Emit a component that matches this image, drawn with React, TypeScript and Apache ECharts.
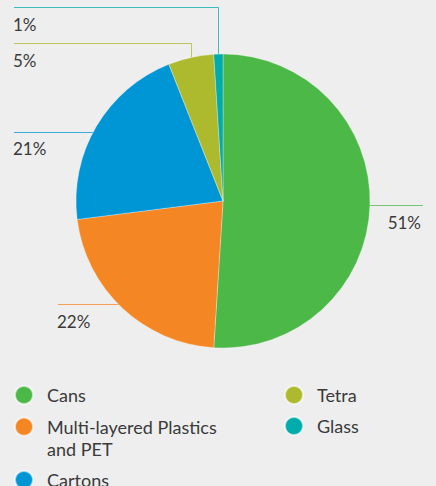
import { useEffect, useRef } from 'react';
import * as echarts from 'echarts';

// ---- data ----
const categories = ['Cans', 'Multi-layered Plastics and PET', 'Cartons', 'Tetra', 'Glass'];
const shares = [51, 22, 21, 5, 1];
const sliceColors = ['#4cb848', '#f58624', '#0096d6', '#aeba2e', '#00abab'];

// ---- layout ----
const CX = 223;
const CY = 201;
const R = 147;
const FONT = 'Lato, "Open Sans", sans-serif';
const TEXT = '#3a3a3a';
const BG = '#eeeeee';

// leader line / label placement per slice (annotation layout only)
const guides = [
  { lineY: 205.5, endX: 423, textX: 421, textY: 222, align: 'right', up: false },
  { lineY: 304.5, endX: 58, textX: 57, textY: 321, align: 'left', up: false },
  { lineY: 132.5, endX: 14, textX: 13, textY: 148, align: 'left', up: false },
  { lineY: 43.5, endX: 14, textX: 13, textY: 60, align: 'left', up: true },
  { lineY: 7.5, endX: 14, textX: 13, textY: 24, align: 'left', up: true },
];

// legend slot positions (annotation layout only)
const legendSlots = [
  { left: 14, top: 384, wrap: false },
  { left: 14, top: 393.7, wrap: true },
  { left: 14, top: 469, wrap: false },
  { left: 284, top: 384, wrap: false },
  { left: 284, top: 415, wrap: false },
];

export default function App() {
  const ref = useRef<HTMLDivElement>(null);

  useEffect(() => {
    if (!ref.current) return;
    const chart = echarts.init(ref.current, undefined, { renderer: 'svg' });
    const total = shares.reduce((a, b) => a + b, 0);

    const legends = categories.map((name, i) => {
      const slot = legendSlots[i];
      return {
        show: true,
        orient: 'vertical',
        left: slot.left,
        top: slot.top,
        padding: 0,
        icon: 'circle',
        itemWidth: 36,
        itemHeight: 18,
        selectedMode: false,
        data: [name],
        formatter: (n: string) =>
          slot.wrap ? '\n' + n.replace(' and ', '\nand ') : n,
        textStyle: {
          fontFamily: FONT,
          fontSize: 18,
          color: TEXT,
          lineHeight: 22,
        },
      };
    });

    chart.setOption({
      animation: false,
      backgroundColor: BG,
      legend: legends,
      series: [
        {
          type: 'pie',
          center: [CX, CY],
          radius: R,
          startAngle: 90,
          clockwise: true,
          avoidLabelOverlap: false,
          itemStyle: { borderColor: 'rgba(255,255,255,0.6)', borderWidth: 0.5 },
          emphasis: { disabled: true },
          data: categories.map((name, i) => ({
            name,
            value: shares[i],
            itemStyle: { color: sliceColors[i] },
            labelLine: { lineStyle: { color: sliceColors[i], opacity: 0.75 } },
          })),
          label: {
            show: true,
            position: 'outside',
            formatter: (p: any) => `${p.value}%`,
            fontFamily: FONT,
            fontSize: 17,
            color: TEXT,
          },
          labelLine: { show: true, smooth: false, lineStyle: { width: 1 } },
          labelLayout: (p: any) => {
            const i = p.dataIndex;
            const g = guides[i];
            const before = shares.slice(0, i).reduce((a, b) => a + b, 0);
            const theta = ((before + shares[i] / 2) / total) * Math.PI * 2;
            const mx = CX + R * Math.sin(theta);
            const my = CY - R * Math.cos(theta);
            let pts: number[][];
            if (g.up) {
              const vx = Math.round(mx) + 0.5;
              pts = [[vx, my], [vx, g.lineY], [g.endX, g.lineY]];
            } else {
              const dy = g.lineY - CY;
              const ex = CX + Math.sign(mx - CX) * Math.sqrt(R * R - dy * dy);
              pts = [[ex, g.lineY], [g.endX, g.lineY]];
            }
            return {
              x: g.textX,
              y: g.textY,
              align: g.align,
              verticalAlign: 'middle',
              labelLinePoints: pts,
            };
          },
        },
      ],
    });

    return () => chart.dispose();
  }, []);

  return (
    <div
      ref={ref}
      style={{ position: 'fixed', left: 0, top: 0, width: 436, height: 486 }}
    />
  );
}
